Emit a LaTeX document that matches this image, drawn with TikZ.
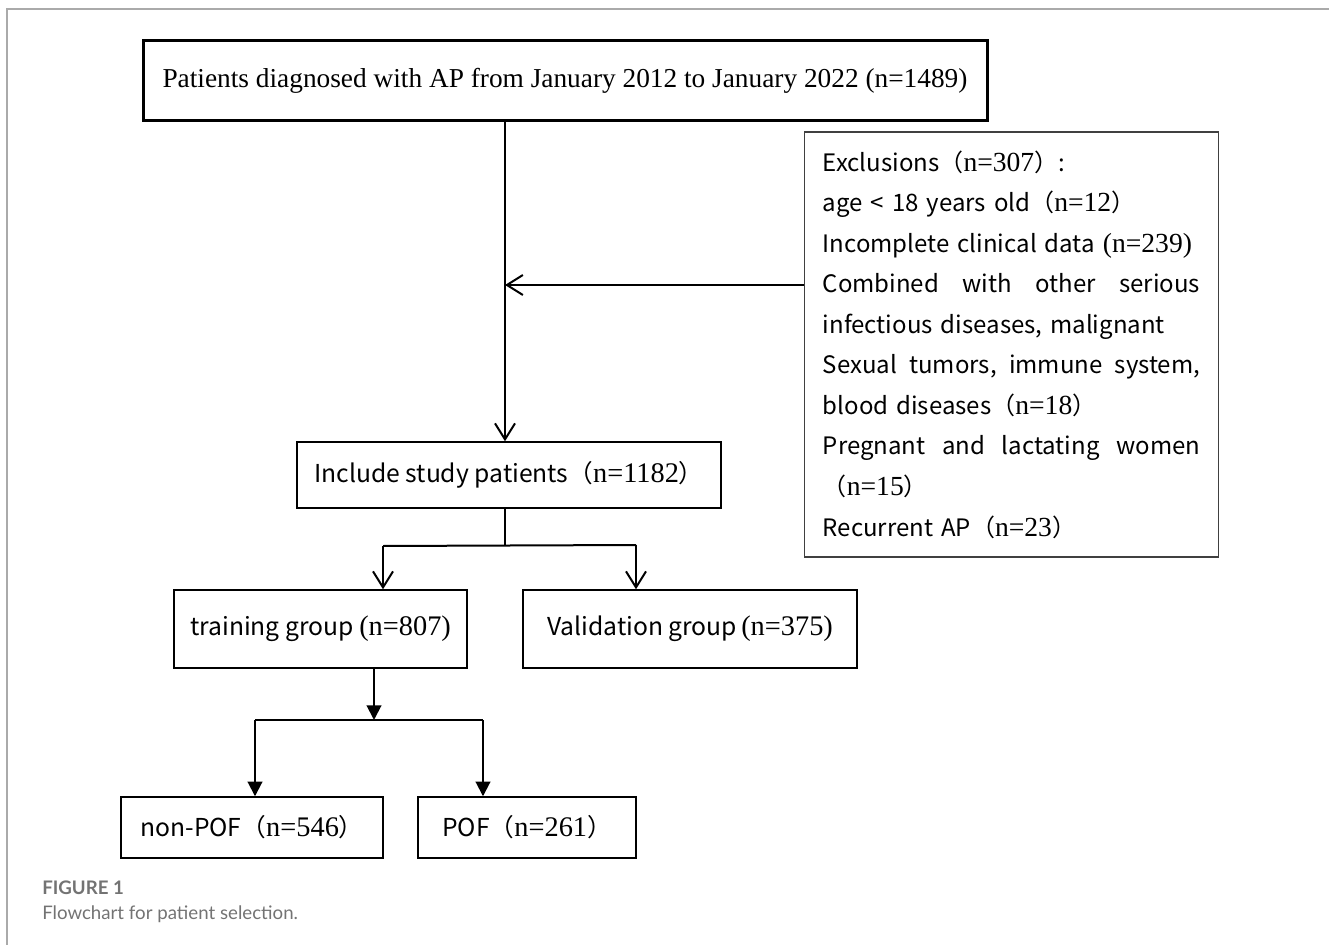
\documentclass[tikz,border=0pt]{standalone}
\usepackage{fontspec}
\setmainfont{Liberation Serif}
\newfontfamily\boxfont{Noto Sans CJK SC}
\newfontfamily\numfont{Liberation Serif}[Scale=1.15]
\newfontfamily\capfont{Lato}
\usepackage{tikz}
\usetikzlibrary{arrows.meta,positioning}
\definecolor{framegray}{RGB}{170,170,170}
\definecolor{captiongray}{RGB}{115,115,115}
\newcommand{\nfw}[1]{{\boxfont （}{\numfont n=#1}{\boxfont ）}}
\newcommand{\nhw}[1]{{\numfont (n=#1)}}

\begin{document}
\begin{tikzpicture}[
    x=0.75pt, y=-0.75pt,
    box/.style={
        rectangle,
        draw=black,
        line width=1.1pt,
        inner sep=0pt,
        align=center,
        font=\boxfont\fontsize{18.5}{22}\selectfont
    },
    link/.style={line width=1.5pt},
    openarrow/.style={link, -{Straight Barb[length=12pt,width=15pt]}},
    fillarrow/.style={link, -{Triangle[length=11pt,width=11pt]}}
]
\useasboundingbox (0,0) rectangle (1329,945);
\draw[framegray, line width=1.5pt] (7,945) -- (7,9) -- (1329,9);

\node[box, line width=2.25pt, minimum width=633pt, minimum height=60pt,
      font=\rmfamily\fontsize{20.5}{24}\selectfont] (diag) at (565,81)
      {Patients diagnosed with AP from January 2012 to January 2022 (n=1489)};
\node[box, draw=black!75, minimum width=310.5pt, minimum height=318.75pt,
      text width=283pt, align=left,
      font=\boxfont\fontsize{18}{30.4}\selectfont] (excl) at (1011.5,344.5)
      {Exclusions\nfw{307}:\\
       age < 18 years old\nfw{12}\\
       Incomplete clinical data \nhw{239}\\
       \makebox[\hsize][l]{Combined\hfill with\hfill other\hfill serious}\\
       infectious diseases, malignant\\
       \makebox[\hsize][l]{Sexual\hfill tumors,\hfill immune\hfill system,}\\
       blood diseases\nfw{18}\\
       \makebox[\hsize][l]{Pregnant\hfill and\hfill lactating\hfill women}\\
       \nfw{15}\\
       Recurrent AP\nfw{23}};
\node[box, minimum width=318pt, minimum height=49.5pt] (incl) at (509,475)
      {Include study patients\nfw{1182}};
\node[box, minimum width=219.75pt, minimum height=58.5pt] (train) at (320.5,629)
      {training group \nhw{807}};
\node[box, minimum width=250.5pt, minimum height=58.5pt] (valid) at (690,629)
      {Validation group\,\nhw{375}};
\node[box, minimum width=196.5pt, minimum height=45.75pt] (nonpof) at (252,827.5)
      {non-POF\nfw{546}};
\node[box, minimum width=163.5pt, minimum height=45.75pt] (pof) at (527,827.5)
      {POF\nfw{261}};

% junction points of the connectors
\coordinate (join) at (505,285);
\coordinate (splitT) at (505,545);
\coordinate (splitL) at (383,546);
\coordinate (splitR) at (636,545);
\coordinate (forkT) at (374,720);
\coordinate (forkL) at (255,720);
\coordinate (forkR) at (483,720);

\draw[openarrow] (diag.south -| join) -- (join |- incl.north);
\draw[openarrow] (excl.west |- join) -- (join);
\draw[link] (incl.south -| splitT) -- (splitT);
\draw[link] (splitL) -- (splitR);
\draw[openarrow] (splitL) -- (splitL |- train.north);
\draw[openarrow] (splitR) -- (splitR |- valid.north);
\draw[fillarrow] (train.south -| forkT) -- (forkT);
\draw[link] (forkL) -- (forkR);
\draw[fillarrow] (forkL) -- (forkL |- nonpof.north);
\draw[fillarrow] (forkR) -- (forkR |- pof.north);

\node[anchor=base west, inner sep=0pt, text=captiongray,
      font=\capfont\bfseries\fontsize{14}{16}\selectfont] (fignum) at (42,894) {FIGURE 1};
\node[anchor=base west, inner sep=0pt, text=captiongray,
      font=\capfont\fontsize{14}{17}\selectfont] (figcap) at (42,919)
      {Flowchart for patient selection.};
\end{tikzpicture}
\end{document}
